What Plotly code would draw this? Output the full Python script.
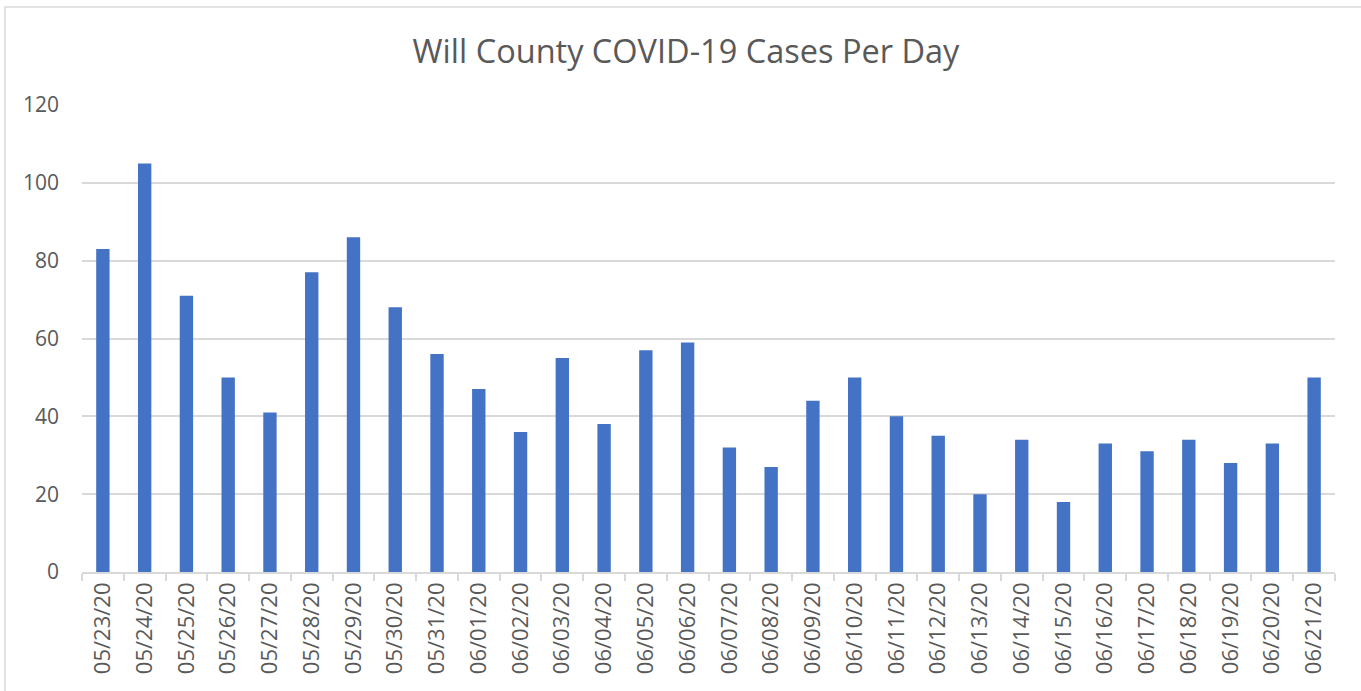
import plotly.graph_objects as go

dates = ["05/23/20","05/24/20","05/25/20","05/26/20","05/27/20","05/28/20","05/29/20","05/30/20",
         "05/31/20","06/01/20","06/02/20","06/03/20","06/04/20","06/05/20","06/06/20","06/07/20",
         "06/08/20","06/09/20","06/10/20","06/11/20","06/12/20","06/13/20","06/14/20","06/15/20",
         "06/16/20","06/17/20","06/18/20","06/19/20","06/20/20","06/21/20"]
cases = [83,105,71,50,41,77,86,68,56,47,36,55,38,57,59,32,27,44,50,40,35,20,34,18,33,31,34,28,33,50]
y_ticks = [0,20,40,60,80,100,120]

W, H = 1361, 691
ml, mr, mt, mb = 82, 26, 105, 119
pw, ph = W - ml - mr, H - mt - mb

fig = go.Figure(go.Bar(x=dates, y=cases, marker=dict(color="#4472C4", line=dict(width=0))))

font_fam = "Open Sans, Liberation Sans, sans-serif"
fig.update_layout(
    width=W, height=H,
    margin=dict(l=ml, r=mr, t=mt, b=mb, autoexpand=False),
    paper_bgcolor="white", plot_bgcolor="white",
    bargap=0.68,
    showlegend=False,
    title=dict(text="Will County COVID-19 Cases Per Day", x=686 / W, xanchor="center",
               y=1 - 52 / H, yanchor="middle",
               font=dict(family=font_fam, size=32.5, color="#595959")),
    font=dict(family=font_fam, color="#595959"),
)
fig.update_xaxes(
    type="category", tickangle=-90, tickfont=dict(size=22, color="#595959"),
    showline=True, linecolor="#D9D9D9", linewidth=1.5,
    ticks="outside", tickson="boundaries", ticklen=7, tickcolor="#D9D9D9", tickwidth=1.5,
    showgrid=False, fixedrange=True,
)
fig.update_yaxes(
    range=[0, 120], tickvals=y_ticks, tickfont=dict(size=21, color="#595959"),
    showgrid=True, gridcolor="#D9D9D9", gridwidth=1.5, zeroline=False,
    showline=False, ticks="", ticklabelstandoff=22,
)
# outer chart border
fig.add_shape(type="rect", xref="paper", yref="paper",
              x0=(5 - ml) / pw, x1=(W + 20 - ml) / pw,
              y0=(H - mb - (H + 20)) / ph, y1=(H - mb - 7) / ph,
              line=dict(color="#D9D9D9", width=1.5), fillcolor="rgba(0,0,0,0)", layer="below")

fig.write_html("out.html", config={"displayModeBar": False},
               post_script="document.body.style.margin='0px';document.body.style.overflow='hidden';")
